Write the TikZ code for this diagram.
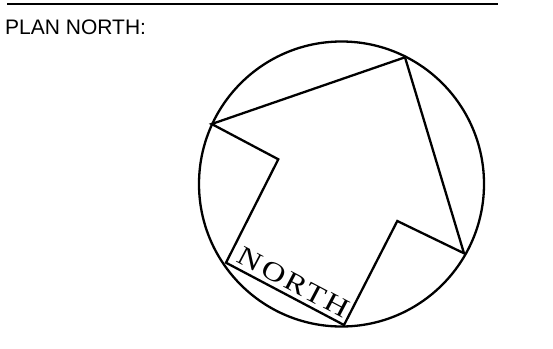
\documentclass[tikz,border=0pt]{standalone}
\usepackage{fontspec}
\setmainfont{Liberation Sans}
\newfontfamily\northfont[FakeStretch=1.22, LetterSpace=10]{Liberation Serif}
\usetikzlibrary{positioning}

\begin{document}
\begin{tikzpicture}[x=1pt, y=-1pt,
          rule/.style={draw=black, line width=2.6pt},
          outline/.style={draw=black, line width=2.3pt, line join=miter},
          title/.style={font=\fontsize{21}{24}\selectfont, inner sep=0pt,
                        anchor=base west}
        ]
        \useasboundingbox (0,0) rectangle (553,348);

        % Heading
        \coordinate (rl) at (7,4);
        \coordinate (rr) at (498,4);
        \draw[rule] (rl) -- (rr);
        \node[title] (head) at (5,34) {PLAN NORTH:};

        % Compass ring
        \coordinate (c) at (341.5,184);
        \draw[outline] (c) circle[radius=142.5];

        % North arrow
        \coordinate (tip) at (405,57.3);
        \coordinate (lb)  at (211.7,124);
        \coordinate (li)  at (278.3,159.3);
        \coordinate (sl)  at (226,262.7);
        \coordinate (sr)  at (344,325);
        \coordinate (ri)  at (397.3,221);
        \coordinate (rb)  at (464,253.3);
        \draw[outline] (tip) -- (lb) -- (li) -- (sl) -- (sr)
              -- (ri) -- (rb) -- cycle;

        \path (sl) -- node[sloped, above=5pt, pos=0.52, inner sep=0pt,
              font=\northfont\fontsize{27}{30}\selectfont] (lbl) {NORTH} (sr);
      \end{tikzpicture}
\end{document}
